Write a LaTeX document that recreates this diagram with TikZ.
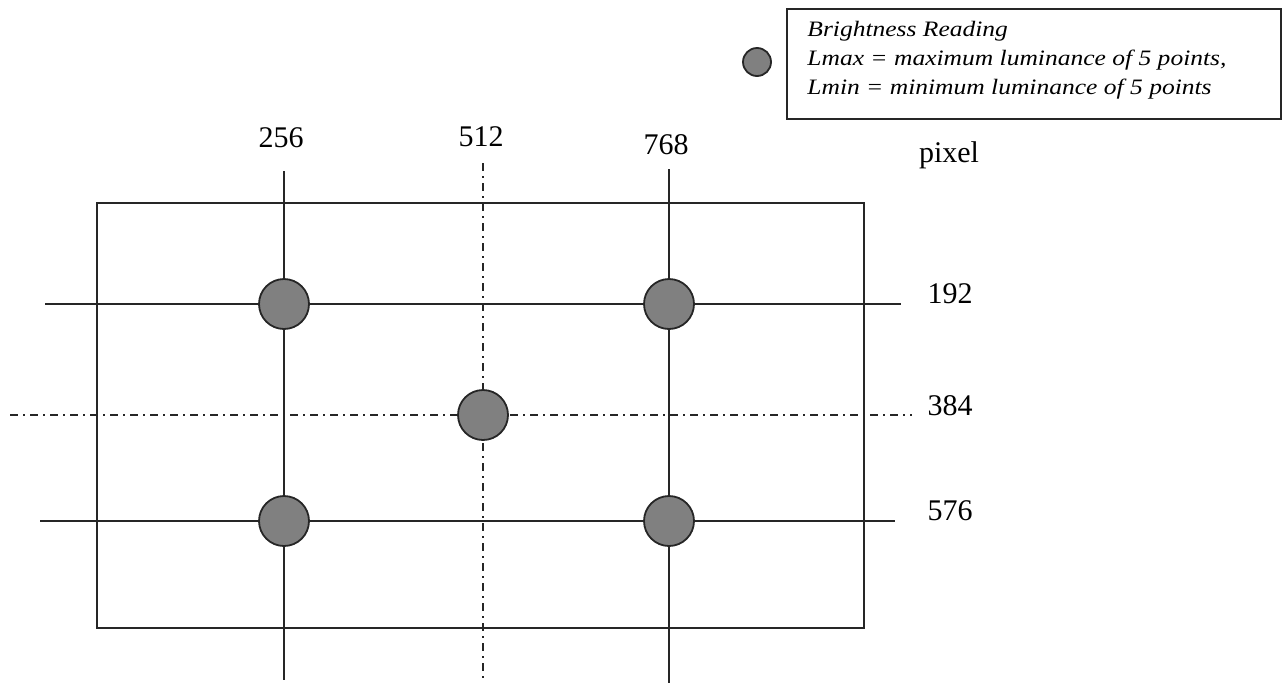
\documentclass[tikz,border=0pt]{standalone}
\usepackage{fontspec}
\setmainfont{Liberation Serif}
\newfontfamily\legendfont[FakeStretch=1.16]{Liberation Serif}
\usetikzlibrary{positioning}

\tikzset{
  gridline/.style={line width=1pt, black!85},
  dashdot/.style={gridline, dash pattern=on 4pt off 2.5pt on 1pt off 2.5pt},
  reading/.style={circle, draw=black!85, line width=0.9pt, fill=black!50,
    minimum size=25pt, inner sep=0pt},
  ticklabel/.style={font=\fontsize{15}{18}\selectfont, inner sep=0pt},
}

\begin{document}
\begin{tikzpicture}[x=0.5pt,y=-0.5pt]
    \useasboundingbox (0,0) rectangle (1285,686);
    % screen frame
    \draw[gridline] (97,203) rectangle (864,628);

    % end points of the measuring lines
    \coordinate (colA top) at (284,171);
    \coordinate (colA bot) at (284,680);
    \coordinate (colB top) at (483,163);
    \coordinate (colB bot) at (483,678);
    \coordinate (colC top) at (669,169);
    \coordinate (colC bot) at (669,683);
    \coordinate (rowA left) at (45,304);
    \coordinate (rowA right) at (901,304);
    \coordinate (rowB left) at (10,415);
    \coordinate (rowB right) at (912,415);
    \coordinate (rowC left) at (40,521);
    \coordinate (rowC right) at (895,521);

    \draw[gridline] (colA top) -- (colA bot);
    \draw[dashdot] (colB top) -- (colB bot);
    \draw[gridline] (colC top) -- (colC bot);
    \draw[gridline] (rowA left) -- (rowA right);
    \draw[dashdot] (rowB left) -- (rowB right);
    \draw[gridline] (rowC left) -- (rowC right);

    % the five reading points
    \node[reading] (ptA) at (284,304) {};
    \node[reading] (ptB) at (669,304) {};
    \node[reading] (ptC) at (483,415) {};
    \node[reading] (ptD) at (284,521) {};
    \node[reading] (ptE) at (669,521) {};

    % pixel labels
    \node[ticklabel] (lbl256) at (281,138) {256};
    \node[ticklabel] (lbl512) at (481,137) {512};
    \node[ticklabel] (lbl768) at (666,145) {768};
    \node[ticklabel] (lblpix) at (949,155) {pixel};
    \node[ticklabel] (lbl192) at (950,294) {192};
    \node[ticklabel] (lbl384) at (950,406) {384};
    \node[ticklabel] (lbl576) at (950,511) {576};

    % legend
    \node[draw, gridline, minimum width=247pt, minimum height=55pt, inner sep=0pt]
      (legend) at (1034,64) {};
    \node[reading, minimum size=14pt] (key) at (757,62) {};
    \node[anchor=west, align=left, inner sep=0pt,
      font=\legendfont\fontsize{11}{14.5}\selectfont\itshape] (keytext) at (807,60)
      {Brightness Reading\\Lmax = maximum luminance of 5 points,\\Lmin = minimum luminance of 5 points};
\end{tikzpicture}
\end{document}
